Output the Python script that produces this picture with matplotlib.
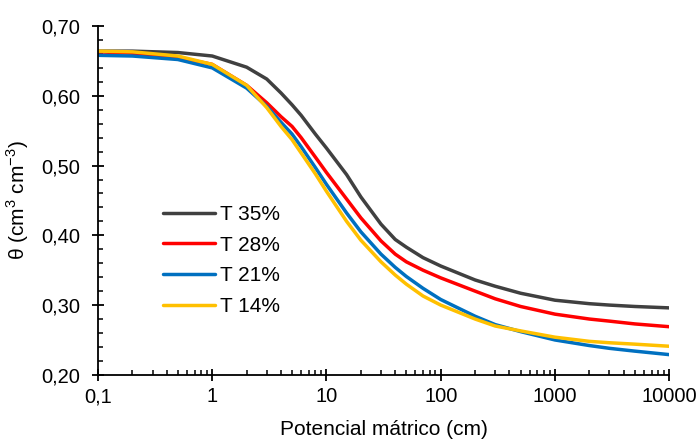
import numpy as np
import matplotlib
matplotlib.use("Agg")
import matplotlib.pyplot as plt
from matplotlib.ticker import FixedLocator, FuncFormatter, LogLocator, MultipleLocator

# potencial matrico (cm)
h = [0.1, 0.2, 0.5, 1, 2, 3, 4, 5, 6, 8, 10, 15, 20, 30, 40, 50, 70, 100,
     200, 300, 500, 1000, 2000, 3000, 5000, 10000]

t35 = [0.664, 0.664, 0.662, 0.657, 0.641, 0.624, 0.604, 0.587, 0.572, 0.545,
       0.525, 0.487, 0.455, 0.416, 0.394, 0.383, 0.368, 0.356, 0.336, 0.327,
       0.317, 0.307, 0.302, 0.300, 0.298, 0.296]
t28 = [0.663, 0.661, 0.655, 0.645, 0.615, 0.590, 0.570, 0.556, 0.540, 0.512,
       0.490, 0.452, 0.425, 0.392, 0.373, 0.362, 0.350, 0.339, 0.320, 0.309,
       0.298, 0.287, 0.280, 0.277, 0.273, 0.269]
t21 = [0.658, 0.657, 0.652, 0.640, 0.611, 0.585, 0.562, 0.545, 0.527, 0.497,
       0.473, 0.432, 0.405, 0.373, 0.354, 0.341, 0.324, 0.308, 0.284, 0.272,
       0.262, 0.250, 0.242, 0.238, 0.234, 0.229]
t14 = [0.664, 0.663, 0.657, 0.645, 0.615, 0.583, 0.556, 0.537, 0.518, 0.488,
       0.463, 0.420, 0.393, 0.362, 0.343, 0.330, 0.313, 0.300, 0.280, 0.270,
       0.263, 0.254, 0.248, 0.246, 0.244, 0.241]

labels = ["T 35%", "T 28%", "T 21%", "T 14%"]
colors = ["#404040", "#FF0000", "#0070C0", "#FFC000"]

plt.rcParams['font.family'] = ['Liberation Sans', 'DejaVu Sans']

fig = plt.figure(figsize=(7, 4.41), dpi=100)
ax = fig.add_axes([0.14, 0.15, 0.816, 0.791])

for y, lab, c in zip([t35, t28, t21, t14], labels, colors):
    ax.plot(h, y, color=c, lw=2.5, label=lab, solid_capstyle='round')

ax.set_xscale('log')
ax.set_xlim(0.1, 10000)
ax.set_ylim(0.20, 0.70)

ax.xaxis.set_major_locator(FixedLocator([0.1, 1, 10, 100, 1000, 10000]))
ax.xaxis.set_minor_locator(LogLocator(base=10, subs=np.arange(2, 10)))
ax.xaxis.set_major_formatter(FuncFormatter(lambda v, p: ('%g' % v).replace('.', ',')))
ax.yaxis.set_major_locator(MultipleLocator(0.1))
ax.yaxis.set_minor_locator(MultipleLocator(0.02))
ax.yaxis.set_major_formatter(FuncFormatter(lambda v, p: ('%.2f' % v).replace('.', ',')))

ax.tick_params(which='major', direction='inout', length=9, width=1.3, labelsize=14.5)
ax.tick_params(which='minor', direction='in', length=3.6, width=1.1)
ax.tick_params(axis='x', which='major', pad=4.5)
ax.tick_params(axis='y', which='major', pad=8.5)

for s in ['top', 'right']:
    ax.spines[s].set_visible(False)
for s in ['left', 'bottom']:
    ax.spines[s].set_linewidth(1.3)

ax.set_xlabel('Potencial mátrico (cm)', fontsize=15, labelpad=10)
ax.set_ylabel(r'θ (cm$^{\mathregular{3}}$ cm$^{\mathregular{-3}}$)', fontsize=15, labelpad=7)

ax.legend(loc='upper left', bbox_to_anchor=(0.114, 0.487), frameon=False,
          fontsize=15, handlelength=2.5, handletextpad=0.25, labelspacing=0.56,
          borderpad=0, borderaxespad=0)

fig.savefig('out.png', dpi=100)
